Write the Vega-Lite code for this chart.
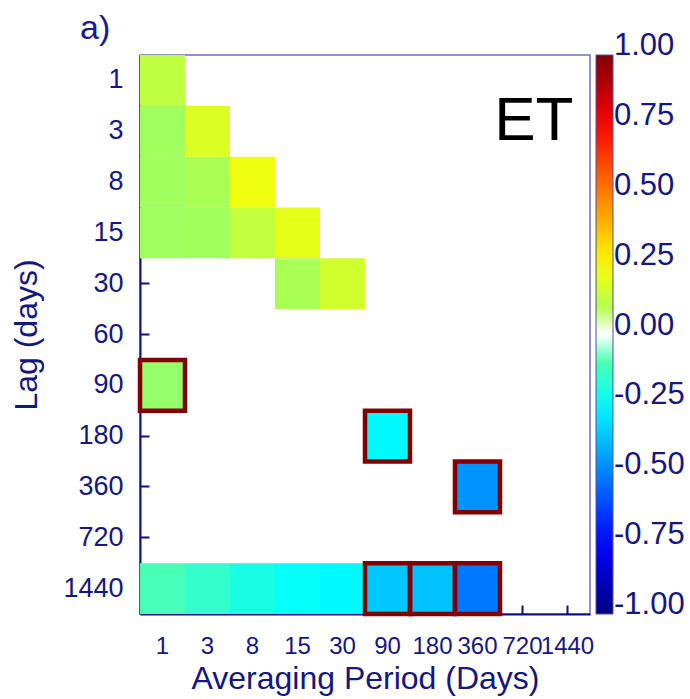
{
  "$schema": "https://vega.github.io/schema/vega-lite/v6.json",
  "autosize": "none",
  "width": 450,
  "height": 559,
  "padding": {"left": 140, "top": 55, "right": 100, "bottom": 85},
  "background": "white",
  "title": {"text": "a)", "anchor": "start", "frame": "group", "dx": -60, "offset": -18, "baseline": "alphabetic", "fontSize": 34, "font": "Liberation Sans", "fontWeight": "normal", "color": "#1a1a8a"},
  "config": {
    "view": {"stroke": "#6f6fb8", "strokeWidth": 1.5},
    "axis": {"domainColor": "#10107a", "domainWidth": 2, "tickColor": "#10107a", "tickWidth": 2, "tickSize": -9, "grid": false, "zindex": 1,
      "labelFont": "Liberation Sans", "labelFontSize": 27, "labelColor": "#16167f",
      "titleFont": "Liberation Sans", "titleFontSize": 32, "titleFontWeight": "normal", "titleColor": "#16167f"},
    "legend": {"labelFont": "Liberation Sans", "labelFontSize": 31, "labelColor": "#16167f"}
  },
  "datasets": {
    "cells": [
      {"p": "1", "lag": "1", "r": 0.125, "sig": false},
      {"p": "1", "lag": "3", "r": 0.063, "sig": false},
      {"p": "3", "lag": "3", "r": 0.18, "sig": false},
      {"p": "1", "lag": "8", "r": 0.065, "sig": false},
      {"p": "3", "lag": "8", "r": 0.085, "sig": false},
      {"p": "8", "lag": "8", "r": 0.22, "sig": false},
      {"p": "1", "lag": "15", "r": 0.063, "sig": false},
      {"p": "3", "lag": "15", "r": 0.065, "sig": false},
      {"p": "8", "lag": "15", "r": 0.13, "sig": false},
      {"p": "15", "lag": "15", "r": 0.2, "sig": false},
      {"p": "15", "lag": "30", "r": 0.083, "sig": false},
      {"p": "30", "lag": "30", "r": 0.16, "sig": false},
      {"p": "1", "lag": "90", "r": 0.04, "sig": true},
      {"p": "90", "lag": "180", "r": -0.26, "sig": true},
      {"p": "360", "lag": "360", "r": -0.46, "sig": true},
      {"p": "1", "lag": "1440", "r": -0.11, "sig": false},
      {"p": "3", "lag": "1440", "r": -0.15, "sig": false},
      {"p": "8", "lag": "1440", "r": -0.2, "sig": false},
      {"p": "15", "lag": "1440", "r": -0.24, "sig": false},
      {"p": "30", "lag": "1440", "r": -0.26, "sig": false},
      {"p": "90", "lag": "1440", "r": -0.36, "sig": true},
      {"p": "180", "lag": "1440", "r": -0.37, "sig": true},
      {"p": "360", "lag": "1440", "r": -0.515, "sig": true}
    ],
    "labels": [{"p": "1440", "lag": "3", "text": "ET"}]
  },
  "encoding": {
    "x": {"field": "p", "type": "ordinal",
      "scale": {"type": "band", "domain": ["1", "3", "8", "15", "30", "90", "180", "360", "720", "1440"], "paddingInner": 0, "paddingOuter": 0},
      "axis": {"title": "Averaging Period (Days)", "labelAngle": 0, "labelPadding": 29, "titlePadding": 5, "labelOverlap": false,
        "labelFontSize": 24}},
    "y": {"field": "lag", "type": "ordinal",
      "scale": {"type": "band", "domain": ["1", "3", "8", "15", "30", "60", "90", "180", "360", "720", "1440"], "paddingInner": 0, "paddingOuter": 0},
      "axis": {"title": "Lag (days)", "labelPadding": 26, "titlePadding": 19}}
  },
  "layer": [
    {
      "data": {"name": "cells"},
      "mark": {"type": "rect"},
      "encoding": {
        "color": {"field": "r", "type": "quantitative",
          "scale": {"type": "linear", "domain": [-1, -0.75, -0.25, -0.006, -0.003, 0.003, 0.006, 0.25, 0.75, 1], "range": ["#000080", "#0000ff", "#00ffff", "#7cff83", "#ffffff", "#ffffff", "#83ff7c", "#ffff00", "#ff0000", "#800000"], "interpolate": "rgb"},
          "legend": {"title": null, "orient": "none", "legendX": 456, "legendY": 0, "padding": 0, "direction": "vertical",
            "gradientLength": 559, "gradientThickness": 17, "gradientStrokeColor": "#5050a0", "gradientStrokeWidth": 1,
            "values": [-1, -0.75, -0.5, -0.25, 0, 0.25, 0.5, 0.75, 1], "labelExpr": "replace(format(datum.value, '.2f'), '\u2212', '-')", "labelOverlap": false,
            "labelOffset": 1,
            "encode": {"labels": {"update": {"baseline": {"value": "alphabetic"}}}}}}
      }
    },
    {
      "data": {"name": "cells"},
      "transform": [{"filter": "datum.sig"}],
      "mark": {"type": "rect", "fillOpacity": 0, "stroke": "#820000", "strokeWidth": 4.5}
    },
    {
      "data": {"name": "labels"},
      "mark": {"type": "text", "align": "right", "baseline": "alphabetic", "dx": 6, "dy": 9, "fontSize": 62, "font": "Liberation Sans", "color": "black"},
      "encoding": {"text": {"field": "text"}}
    }
  ]
}
